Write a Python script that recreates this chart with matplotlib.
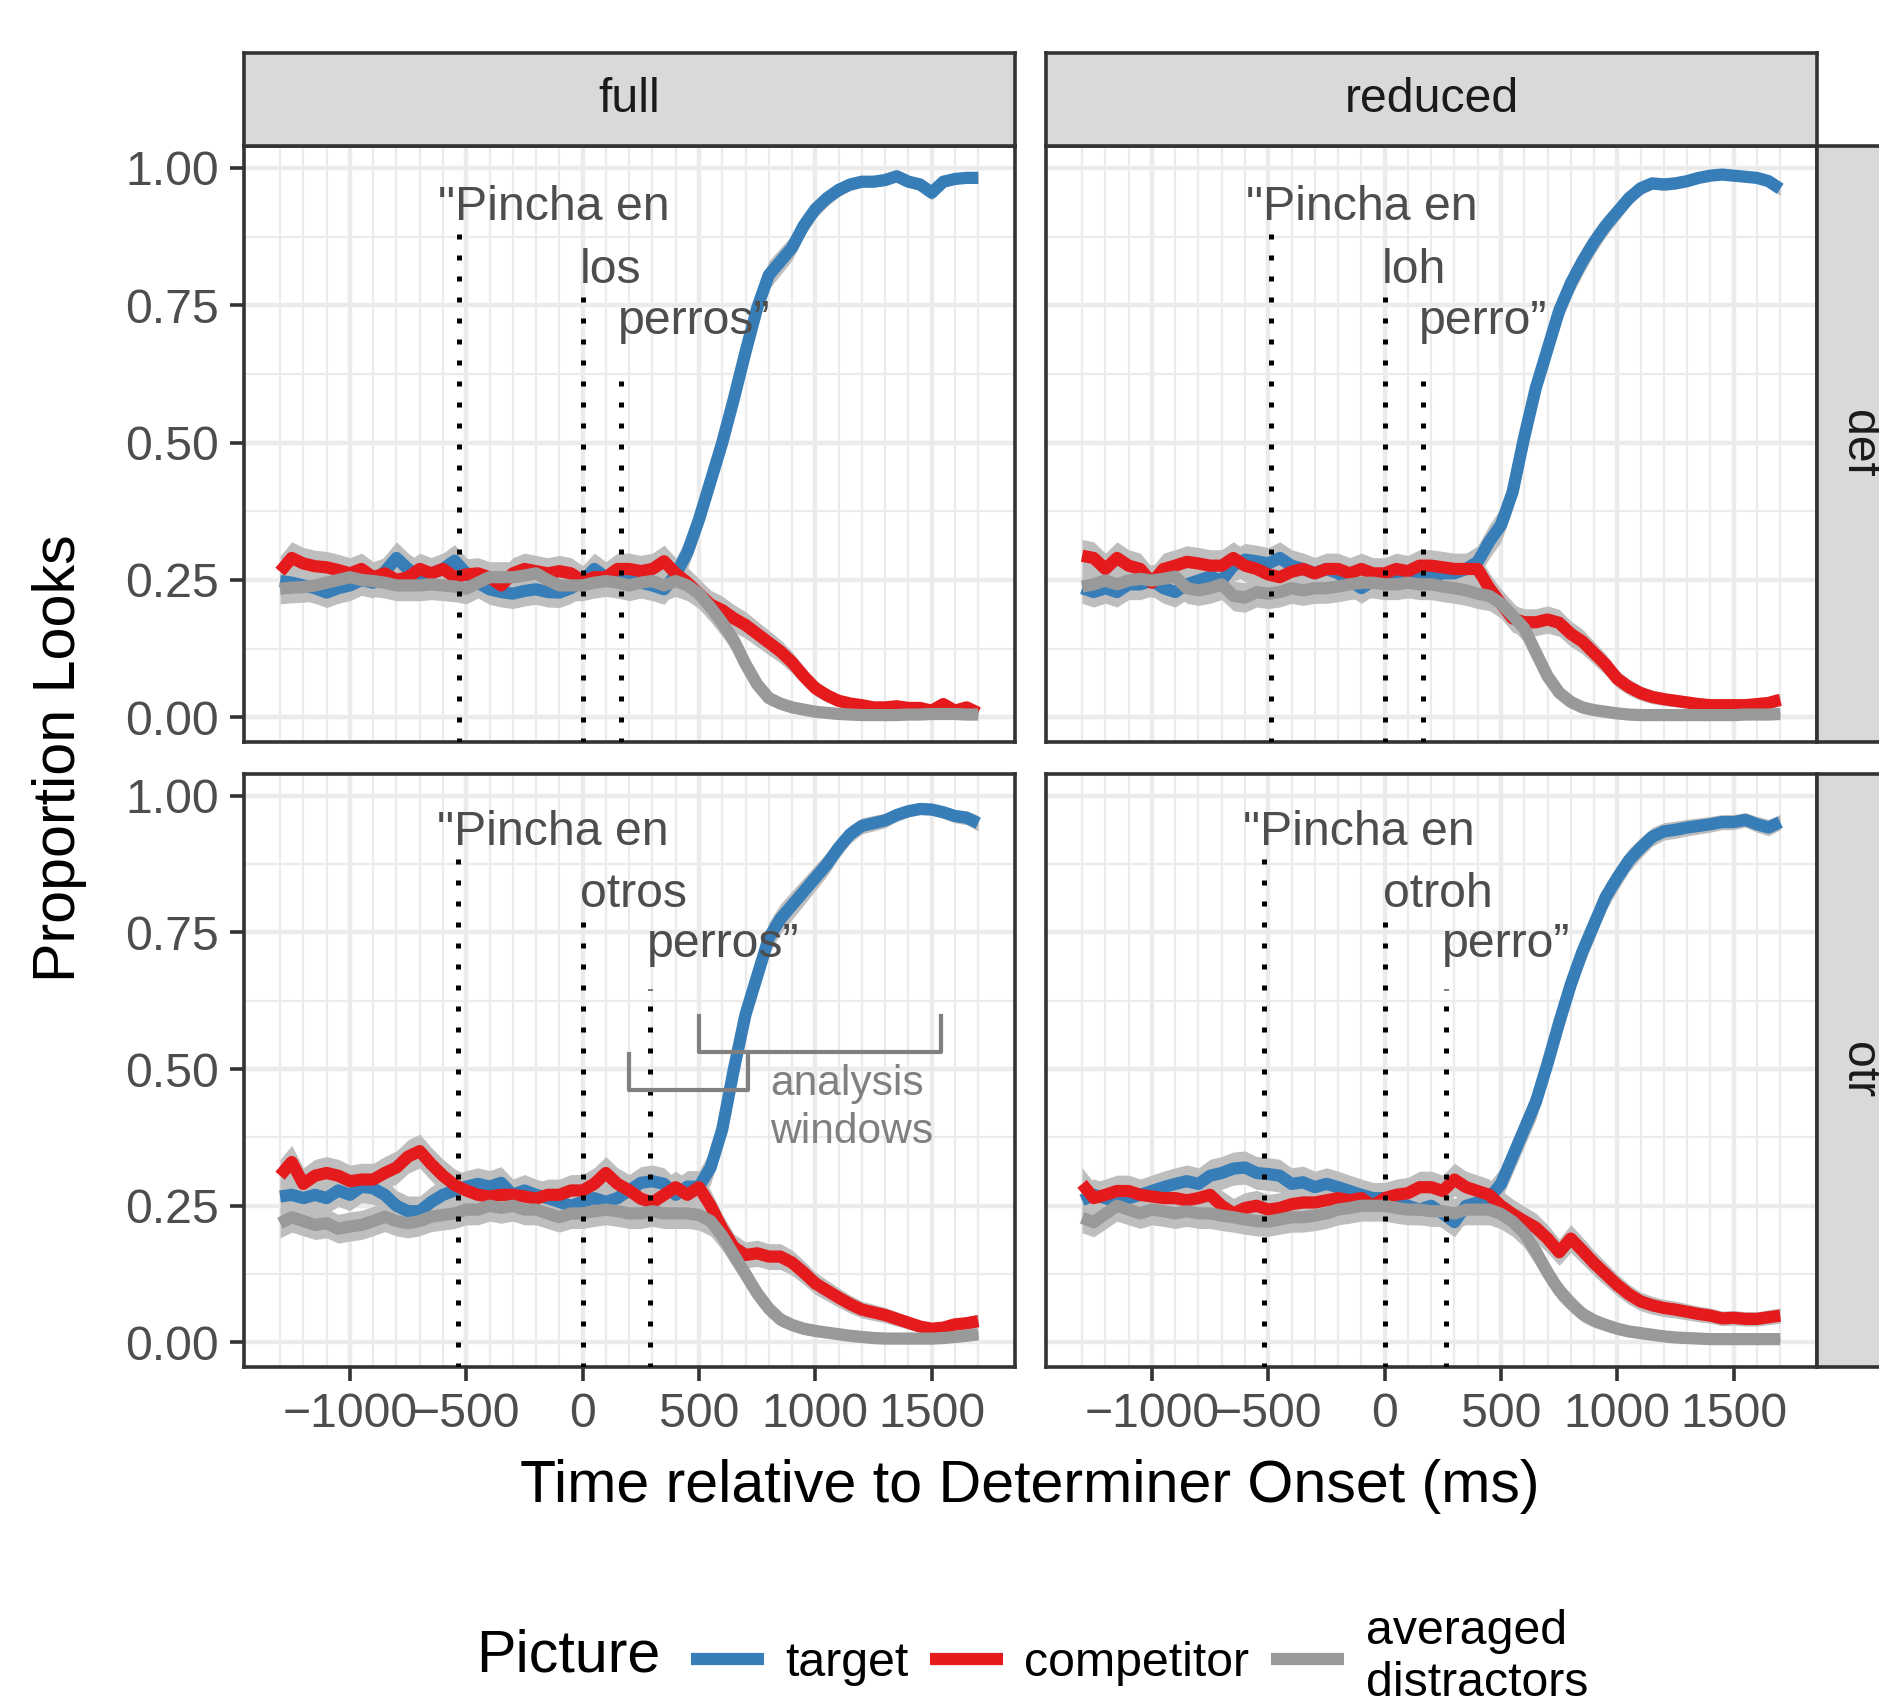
import numpy as np
import matplotlib
matplotlib.use("Agg")
import matplotlib.pyplot as plt
from matplotlib.lines import Line2D

plt.rcParams['font.family'] = ['Liberation Sans', 'DejaVu Sans']

# time bins (ms relative to determiner onset)
time = np.arange(-1300, 1701, 50)

# ---- full / def
full_def_target = [.248, .245, .240, .235, .227, .235, .240, .250, .245, .265, .290, .270, .255, .262, .270, .285,
                   .262, .245, .233, .228, .225, .230, .233, .228, .227, .235, .248, .270, .255, .250, .250, .245,
                   .240, .233, .260, .300, .360, .430, .500, .580, .665, .745, .805, .830, .855, .895, .925, .945,
                   .960, .970, .975, .975, .978, .985, .975, .970, .955, .975, .980, .982, .982]
full_def_comp = [.265, .290, .280, .275, .273, .268, .262, .270, .255, .262, .250, .255, .270, .262, .270, .255,
                 .260, .262, .255, .240, .262, .270, .266, .262, .266, .262, .248, .255, .255, .270, .270, .266,
                 .270, .284, .262, .245, .225, .205, .195, .180, .168, .152, .136, .120, .100, .075, .053, .040,
                 .030, .025, .022, .018, .018, .020, .017, .017, .012, .024, .012, .018, .008]
full_def_dist = [.234, .236, .237, .240, .245, .250, .255, .250, .248, .245, .240, .240, .240, .242, .240, .238,
                 .234, .245, .255, .255, .255, .258, .262, .250, .240, .240, .240, .245, .248, .245, .240, .245,
                 .248, .240, .248, .240, .225, .200, .172, .140, .097, .060, .035, .025, .018, .014, .010, .008,
                 .006, .005, .004, .004, .004, .004, .005, .005, .006, .006, .006, .005, .005]

# ---- reduced / def
red_def_target = [.235, .228, .235, .228, .242, .242, .249, .235, .228, .242, .249, .256, .249, .276, .287, .284,
                  .280, .290, .276, .270, .262, .270, .262, .249, .235, .249, .256, .256, .262, .256, .256, .262,
                  .262, .270, .283, .320, .350, .410, .510, .600, .670, .740, .790, .830, .865, .895, .920, .945,
                  .963, .972, .970, .972, .976, .982, .986, .988, .986, .984, .982, .976, .962]
red_def_comp = [.294, .290, .270, .290, .276, .270, .245, .270, .276, .283, .280, .276, .276, .290, .276, .270,
                .260, .255, .265, .270, .262, .270, .270, .262, .270, .262, .262, .270, .266, .276, .276, .273,
                .270, .270, .270, .235, .207, .180, .173, .173, .178, .172, .152, .138, .117, .096, .070, .055,
                .044, .037, .033, .030, .027, .024, .022, .022, .022, .022, .024, .026, .032]
red_def_dist = [.238, .242, .249, .242, .249, .252, .249, .252, .256, .235, .231, .235, .242, .221, .218, .228,
                .225, .228, .235, .231, .235, .235, .238, .242, .245, .245, .242, .242, .245, .242, .242, .238,
                .235, .231, .225, .221, .207, .185, .162, .118, .075, .045, .028, .018, .013, .010, .007, .005,
                .004, .004, .004, .004, .004, .004, .004, .004, .004, .005, .005, .005, .006]

# ---- full / otr
full_otr_target = [.267, .270, .264, .270, .264, .278, .270, .285, .282, .270, .250, .240, .240, .257, .270, .278,
                   .285, .290, .285, .292, .270, .278, .270, .264, .257, .250, .257, .264, .257, .264, .278, .292,
                   .295, .290, .270, .285, .285, .320, .390, .500, .600, .670, .740, .775, .800, .825, .850, .875,
                   .905, .930, .945, .950, .955, .965, .972, .976, .975, .970, .963, .960, .950]
full_otr_comp = [.305, .330, .290, .305, .310, .305, .295, .298, .298, .310, .320, .340, .350, .326, .305, .288,
                 .278, .270, .267, .270, .270, .267, .263, .270, .270, .278, .278, .290, .310, .290, .278, .263,
                 .256, .270, .284, .270, .284, .250, .208, .174, .160, .163, .157, .157, .146, .128, .108, .095,
                 .082, .070, .060, .055, .050, .043, .036, .029, .025, .027, .033, .035, .039]
full_otr_dist = [.218, .229, .222, .215, .218, .208, .212, .215, .222, .230, .222, .218, .222, .230, .233, .236,
                 .243, .243, .250, .246, .250, .243, .243, .236, .229, .236, .236, .240, .243, .240, .236, .236,
                 .240, .236, .236, .236, .233, .222, .195, .160, .125, .090, .062, .042, .032, .025, .021, .018,
                 .015, .012, .010, .008, .007, .007, .007, .007, .007, .008, .010, .012, .015]

# ---- reduced / otr
red_otr_target = [.260, .270, .264, .256, .264, .270, .277, .284, .290, .295, .290, .305, .310, .318, .320, .310,
                  .308, .305, .290, .293, .284, .290, .284, .277, .270, .264, .264, .256, .250, .243, .250, .236,
                  .220, .250, .256, .264, .290, .340, .390, .440, .510, .585, .655, .715, .765, .815, .850, .882,
                  .905, .925, .935, .938, .942, .945, .948, .952, .952, .956, .948, .942, .952]
red_otr_comp = [.290, .264, .270, .277, .277, .270, .267, .264, .264, .260, .264, .270, .250, .236, .246, .250,
                .243, .246, .253, .256, .256, .260, .264, .260, .264, .250, .264, .270, .273, .284, .284, .277,
                .298, .284, .277, .270, .250, .235, .222, .210, .190, .165, .190, .168, .145, .125, .105, .088,
                .075, .068, .063, .060, .056, .052, .049, .044, .045, .043, .043, .046, .049]
red_otr_dist = [.228, .220, .235, .250, .243, .236, .243, .240, .236, .240, .236, .236, .232, .229, .225, .222,
                .221, .225, .229, .229, .232, .236, .243, .246, .250, .250, .250, .246, .243, .243, .240, .240,
                .236, .243, .243, .243, .235, .221, .200, .166, .128, .095, .072, .052, .040, .032, .025, .020,
                .017, .014, .011, .009, .008, .007, .006, .006, .006, .006, .006, .006, .006]

# word onsets (dotted lines), line tops, and the words
word_x = {('full', 'def'): [-533, 0, 165], ('reduced', 'def'): [-489, 0, 163],
          ('full', 'otr'): [-535, 0, 290], ('reduced', 'otr'): [-520, 0, 262]}
word_top = {'def': [0.900, 0.770, 0.638], 'otr': [0.911, 0.778, 0.646]}
word_txt = {('full', 'def'): ['"Pincha en', 'los', 'perros\u201d'],
            ('reduced', 'def'): ['"Pincha en', 'loh', 'perro\u201d'],
            ('full', 'otr'): ['"Pincha en', 'otros', 'perros\u201d'],
            ('reduced', 'otr'): ['"Pincha en', 'otroh', 'perro\u201d']}
txt_x = {('full', 'def'): [-620, -12, 152], ('reduced', 'def'): [-595, -12, 148],
         ('full', 'otr'): [-625, -12, 276], ('reduced', 'otr'): [-610, -6, 246]}
txt_y = {'def': [0.905, 0.790, 0.698], 'otr': [0.911, 0.796, 0.706]}

# analysis windows (full/otr panel)
win1_x = [200, 200, 710, 710]
win1_y = [0.527, 0.461, 0.461, 0.527]
win2_x = [500, 500, 1540, 1540]
win2_y = [0.598, 0.532, 0.532, 0.598]

data = {('full', 'def'): (full_def_target, full_def_comp, full_def_dist),
        ('reduced', 'def'): (red_def_target, red_def_comp, red_def_dist),
        ('full', 'otr'): (full_otr_target, full_otr_comp, full_otr_dist),
        ('reduced', 'otr'): (red_otr_target, red_otr_comp, red_otr_dist)}

colors = ['#377EB8', '#E41A1C', '#999999']
labels = ['target', 'competitor', 'averaged\ndistractors']

W, H = 1879, 1698
fig = plt.figure(figsize=(W / 200, H / 200), dpi=200)


def box(x0, y0, x1, y1):
    return [x0 / W, 1 - y1 / H, (x1 - x0) / W, (y1 - y0) / H]


col_x = {'full': (244, 1015), 'reduced': (1046, 1817)}
row_y = {'def': (146, 742), 'otr': (774, 1367)}
dark = '#333333'
small = 17.4
big = 21.3

for (cond, det), series in data.items():
    x0, x1 = col_x[cond]
    y0, y1 = row_y[det]
    ax = fig.add_axes(box(x0, y0, x1, y1))
    ax.set_xlim(-1455, 1858)
    ax.set_ylim(-0.045, 1.04)
    ax.set_xticks([-1000, -500, 0, 500, 1000, 1500])
    ax.set_xticks(np.arange(-1300, 1701, 100), minor=True)
    ax.set_yticks([0, 0.25, 0.5, 0.75, 1.0])
    ax.set_yticks([0.125, 0.375, 0.625, 0.875], minor=True)
    ax.set_yticklabels(['0.00', '0.25', '0.50', '0.75', '1.00'])
    ax.grid(which='major', color='#EBEBEB', lw=1.6, zorder=0)
    ax.grid(which='minor', color='#EBEBEB', lw=0.8, zorder=0)
    ax.set_axisbelow(True)
    for s in ax.spines.values():
        s.set_color(dark)
        s.set_linewidth(1.3)
    ax.tick_params(which='major', length=5, width=1.3, color=dark,
                   labelcolor='#4D4D4D', labelsize=small, pad=4)
    ax.tick_params(which='minor', length=0)
    if cond != 'full':
        ax.tick_params(axis='y', which='both', left=False, labelleft=False)
    if det != 'otr':
        ax.tick_params(axis='x', which='both', bottom=False, labelbottom=False)

    for vals in series:
        v = np.array(vals)
        se = 0.065 * np.sqrt(v * (1 - v))
        ax.fill_between(time, v - se, v + se, color='#BEBEBE', lw=0, zorder=2)
    for vals, c in zip(series, colors):
        ax.plot(time, vals, color=c, lw=4.4, solid_capstyle='butt',
                solid_joinstyle='round', zorder=3)

    for wx, wt in zip(word_x[(cond, det)], word_top[det]):
        ax.plot([wx, wx], [-0.2, wt], color='black', lw=1.8,
                linestyle=(0, (1, 3.2)), dash_capstyle='butt', zorder=4)
    for tx, ty, s in zip(txt_x[(cond, det)], txt_y[det], word_txt[(cond, det)]):
        ax.text(tx, ty, s, ha='left', va='baseline', color='#4D4D4D',
                fontsize=small, zorder=5)

    if (cond, det) == ('full', 'otr'):
        for bx, by in ((win1_x, win1_y), (win2_x, win2_y)):
            ax.plot(bx, by, color='#808080', lw=1.5, solid_joinstyle='round', zorder=5)
        ax.text(807, 0.452, 'analysis', color='#808080', fontsize=15.3, va='baseline', zorder=5)
        ax.text(807, 0.364, 'windows', color='#808080', fontsize=15.3, va='baseline', zorder=5)

# facet strips
for cond, (x0, x1) in col_x.items():
    sa = fig.add_axes(box(x0, 53, x1, 146))
    sa.set_facecolor('#D9D9D9')
    sa.set_xticks([])
    sa.set_yticks([])
    for s in sa.spines.values():
        s.set_color(dark)
        s.set_linewidth(1.3)
    sa.text(0.5, 0.5, cond, ha='center', va='center', fontsize=small,
            color='#1A1A1A', transform=sa.transAxes)
for det, (y0, y1) in row_y.items():
    sa = fig.add_axes(box(1817, y0, 1900, y1))
    sa.set_facecolor('#D9D9D9')
    sa.set_xticks([])
    sa.set_yticks([])
    for s in sa.spines.values():
        s.set_color(dark)
        s.set_linewidth(1.3)
    sa.text(0.5, 0.5, det, ha='center', va='center', fontsize=small, rotation=-90,
            color='#1A1A1A', transform=sa.transAxes)

fig.text(1030 / W, 1 - 1486 / H, 'Time relative to Determiner Onset (ms)',
         ha='center', va='center', fontsize=big)
fig.text(60 / W, 1 - 758 / H, 'Proportion Looks', rotation=90,
         ha='center', va='center', fontsize=big)

# legend
fig.text(476 / W, 1 - 1656 / H, 'Picture', ha='left', va='center', fontsize=big)
handles = [Line2D([], [], color=c, lw=4.4, solid_capstyle='butt') for c in colors]
fig.legend(handles, labels, ncol=3, loc='center left', frameon=False,
           bbox_to_anchor=(691 / W, 1 - 1658 / H), borderaxespad=0, borderpad=0,
           fontsize=small, handlelength=1.5, handletextpad=0.45, columnspacing=0.45)

fig.savefig('out.png', dpi=200)
